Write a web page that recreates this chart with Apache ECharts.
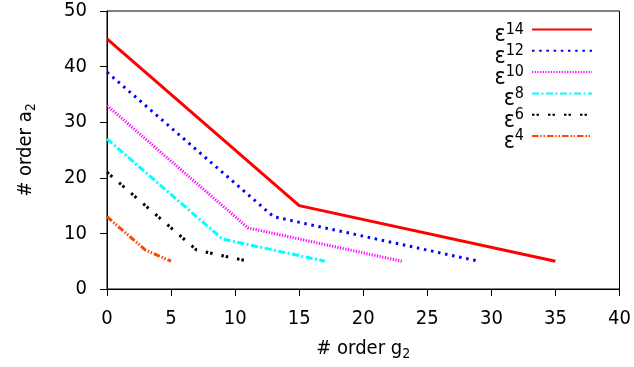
<!DOCTYPE html>
<html>
<head>
<meta charset="utf-8">
<script src="https://cdn.jsdelivr.net/npm/echarts@6/dist/echarts.min.js"></script>
<style>html,body{margin:0;padding:0;background:#fff}#c{width:634px;height:367px}</style>
</head>
<body>
<div id="c"></div>
<script>
// data
const eps14 = [[0, 45], [15, 15], [35, 5]];
const eps12 = [[0, 39], [13, 13], [29, 5]];
const eps10 = [[0, 33], [11, 11], [23, 5]];
const eps8  = [[0, 27], [9, 9], [17, 5]];
const eps6  = [[0, 21], [7, 7], [11, 5]];
const eps4  = [[0, 13], [3, 7], [5, 5]];
const seriesNames = ['14', '12', '10', '8', '6', '4'];
const seriesData = [eps14, eps12, eps10, eps8, eps6, eps4];
const xTicks = [0, 5, 10, 15, 20, 25, 30, 35, 40];
const yTicks = [0, 10, 20, 30, 40, 50];

const colors = ['#ff0000', '#0000ff', '#ff00ff', '#00ffff', '#000000', '#ff4500'];
const dashes = ['solid', [2.5, 4.7], [1.2, 1.5], [7, 2.5, 2, 2.5], [2.5, 2, 2.5, 9], [6.5, 2, 1.5, 1.5, 1.5, 2]];
const FONT = 'DejaVu Sans Condensed, DejaVu Sans, sans-serif';

const chart = echarts.init(document.getElementById('c'), null, {renderer: 'canvas'});
chart.setOption({
  animation: false,
  backgroundColor: '#fff',
  textStyle: {fontFamily: FONT},
  grid: {left: 107, right: 14.5, top: 11, bottom: 78, show: true, borderColor: '#000', borderWidth: 1, backgroundColor: 'transparent'},
  xAxis: {
    type: 'value', min: xTicks[0], max: xTicks[xTicks.length - 1], interval: 5,
    name: '# order g{sub|2}', nameLocation: 'middle', nameGap: 50,
    nameTextStyle: {fontFamily: FONT, fontSize: 20, color: '#000', lineHeight: 20,
      rich: {sub: {fontFamily: FONT, fontSize: 14, lineHeight: 14, padding: [10, 0, 0, 0], color: '#000'}}},
    axisLine: {show: true, lineStyle: {color: '#000', width: 1}},
    axisTick: {show: true, inside: false, length: 7, lineStyle: {color: '#000'}},
    axisLabel: {fontFamily: FONT, fontSize: 20, color: '#000', margin: 20},
    splitLine: {show: false}
  },
  yAxis: {
    type: 'value', min: yTicks[0], max: yTicks[yTicks.length - 1], interval: 10,
    name: '# order a{sub|2}', nameLocation: 'middle', nameGap: 71, nameRotate: 90,
    nameTextStyle: {fontFamily: FONT, fontSize: 20, color: '#000', lineHeight: 20,
      rich: {sub: {fontFamily: FONT, fontSize: 14, lineHeight: 14, padding: [10, 0, 0, 0], color: '#000'}}},
    axisLine: {show: true, lineStyle: {color: '#000', width: 1}},
    axisTick: {show: true, inside: false, length: 7, lineStyle: {color: '#000'}},
    axisLabel: {fontFamily: FONT, fontSize: 20, color: '#000', margin: 20},
    splitLine: {show: false}
  },
  legend: {
    orient: 'vertical', right: 41, top: 12, padding: 0, align: 'right',
    itemWidth: 60, itemHeight: 14, itemGap: -13.7,
    itemStyle: {color: 'transparent', borderColor: 'transparent', borderWidth: 0, opacity: 0},
    data: seriesNames.map(n => 'ε' + n),
    formatter: name => '{e|ε}{s|' + name.slice(1) + '}',
    textStyle: {
      fontFamily: FONT, color: '#000',
      rich: {
        e: {fontFamily: FONT, fontSize: 23, lineHeight: 22, padding: [12, 0, 0, 0], color: '#000'},
        s: {fontFamily: FONT, fontSize: 16, lineHeight: 16, verticalAlign: 'top', padding: [3, 3, 0, 0], color: '#000'}
      }
    }
  },
  series: seriesData.map((d, i) => ({
    name: 'ε' + seriesNames[i],
    type: 'line',
    data: d,
    symbol: 'none',
    showSymbol: false,
    lineStyle: {color: colors[i], width: 3, type: dashes[i]},
    itemStyle: {color: colors[i]}
  }))
});
</script>
</body>
</html>
